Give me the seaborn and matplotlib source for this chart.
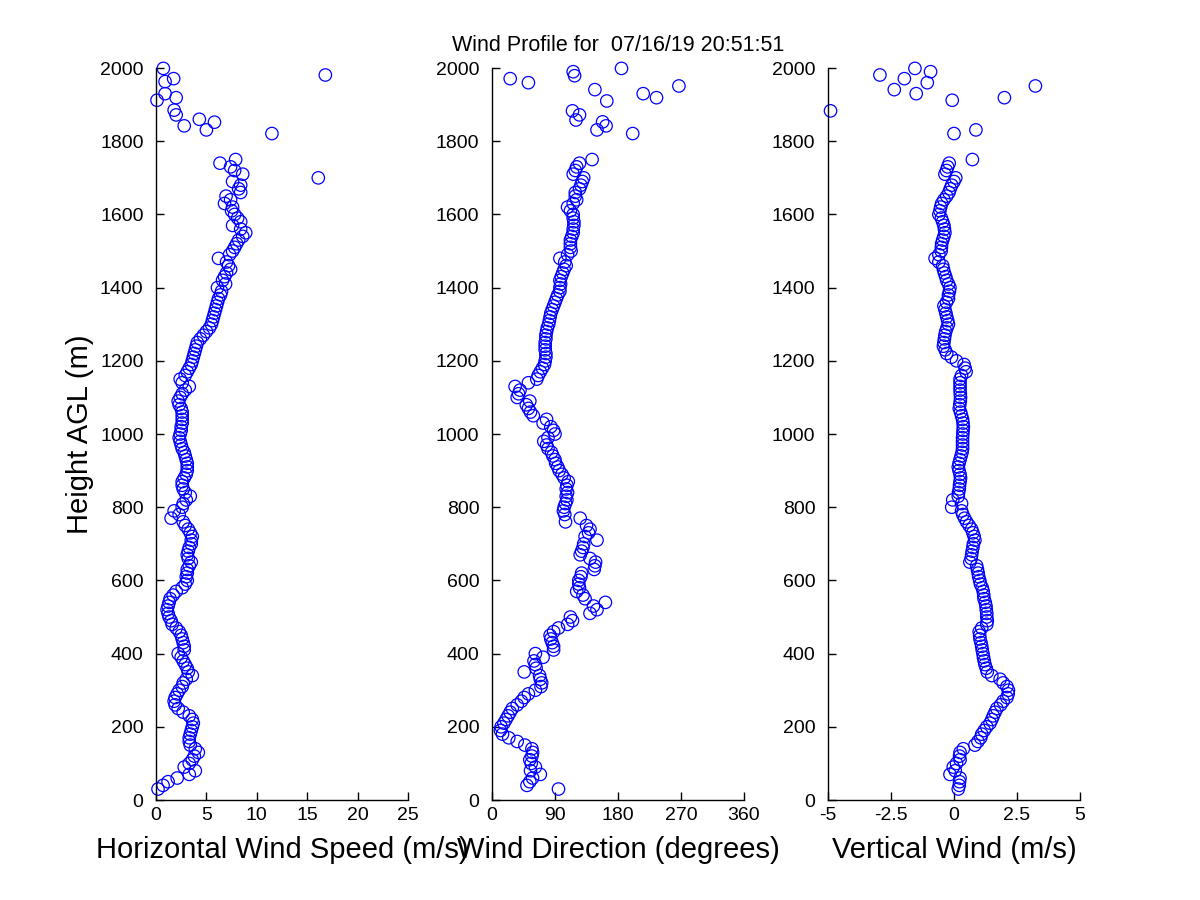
import numpy as np
import pandas as pd
import matplotlib
matplotlib.use("Agg")
import matplotlib.pyplot as plt
import seaborn as sns

# Range gates of the dense part of the profile (m AGL)
gate_heights = np.arange(30, 1760, 10)

# Horizontal wind speed (m/s), one row per 100 m
speed = [
    0.2, 0.7, 1.2, 2.1, 3.3, 3.9, 2.8,
    3.3, 3.6, 3.8, 4.2, 3.9, 3.4, 3.3, 3.3, 3.4, 3.5,
    3.6, 3.7, 3.6, 3.3, 2.7, 2.2, 1.9, 1.8, 1.9, 2.1,
    2.3, 2.6, 2.7, 3.0, 3.6, 3.2, 3.1, 2.9, 2.7, 2.5,
    2.2, 2.8, 2.8, 2.7, 2.6, 2.5, 2.3, 2.0, 1.6, 1.5,
    1.3, 1.2, 1.1, 1.2, 1.3, 1.4, 1.7, 2.0, 2.6, 2.9,
    3.1, 3.0, 3.1, 3.1, 3.3, 3.5, 3.2, 3.1, 3.2, 3.3,
    3.5, 3.5, 3.6, 3.4, 3.2, 2.9, 2.7, 1.5, 2.3, 1.8,
    2.6, 2.7, 3.0, 3.4, 2.9, 2.7, 2.6, 2.6, 2.8, 3.0,
    3.1, 3.1, 3.1, 3.0, 2.9, 2.8, 2.6, 2.5, 2.4, 2.3,
    2.4, 2.5, 2.5, 2.6, 2.6, 2.6, 2.6, 2.5, 2.3, 2.2,
    2.4, 2.6, 2.9, 3.3, 2.6, 2.4, 2.9, 3.1, 3.3, 3.5,
    3.6, 3.7, 3.8, 3.9, 4.0, 4.1, 4.4, 4.7, 5.0, 5.3,
    5.5, 5.6, 5.7, 5.8, 5.9, 6.0, 6.1, 6.2, 6.4, 6.5,
    6.1, 6.9, 6.6, 6.8, 7.0, 7.4, 7.2, 7.0, 6.2, 7.3,
    7.6, 7.8, 8.0, 8.2, 8.6, 8.9, 8.4, 7.6, 8.4, 8.1,
    7.8, 7.5, 7.6, 6.8, 7.4, 6.95, 8.4, 8.2, 8.4, 7.6,
    16.1, 8.6, 7.8, 7.4, 6.35, 7.9,
]

# Wind direction (degrees)
direction = [
    95, 50, 54, 58, 69, 55, 62,
    56, 54, 57, 58, 57, 47, 36, 24, 15, 12,
    13, 17, 20, 23, 26, 29, 36, 42, 46, 52,
    62, 70, 71, 69, 68, 46, 63, 62, 60, 73,
    62, 88, 88, 86, 84, 83, 88, 95, 108, 115,
    112, 140, 150, 145, 162, 133, 130, 121, 125, 124,
    124, 127, 128, 146, 147, 148, 140, 126, 128, 130,
    131, 150, 133, 138, 140, 135, 105, 126, 104, 102,
    103, 105, 107, 106, 108, 106, 107, 109, 103, 100,
    96, 94, 91, 90, 87, 85, 80, 78, 74, 80,
    90, 88, 84, 73, 78, 59, 55, 52, 49, 54,
    36, 38, 40, 33, 52, 64, 66, 69, 72, 75,
    76, 77, 77, 76, 76, 76, 77, 77, 78, 79,
    81, 82, 83, 84, 86, 88, 90, 92, 94, 97,
    97, 98, 97, 99, 101, 103, 106, 104, 97, 108,
    113, 112, 112, 112, 114, 116, 116, 117, 117, 116,
    116, 112, 108, 116, 121, 119, 119, 125, 127, 129,
    131, 116, 119, 121, 125, 143,
]

# Vertical wind (m/s)
vertical = [
    0.17, 0.21, 0.22, 0.24, -0.16, 0.05, -0.03,
    0.1, 0.24, 0.22, 0.24, 0.37, 0.83, 0.95, 1.06, 1.1, 1.2,
    1.3, 1.43, 1.5, 1.56, 1.63, 1.7, 1.85, 1.95, 2.1, 2.15,
    2.16, 2.1, 1.95, 1.83, 1.5, 1.32, 1.28, 1.23, 1.2, 1.17,
    1.15, 1.12, 1.1, 1.07, 1.03, 1.02, 1.0, 1.1, 1.3, 1.32,
    1.3, 1.3, 1.28, 1.27, 1.24, 1.19, 1.18, 1.16, 1.12, 1.05,
    1.02, 0.98, 0.96, 0.93, 0.9, 0.63, 0.68, 0.7, 0.72, 0.75,
    0.77, 0.83, 0.8, 0.75, 0.7, 0.6, 0.5, 0.42, 0.35, 0.3,
    -0.09, 0.3, -0.05, 0.17, 0.18, 0.21, 0.22, 0.24, 0.26, 0.24,
    0.2, 0.17, 0.2, 0.24, 0.28, 0.32, 0.34, 0.34, 0.34, 0.34,
    0.35, 0.36, 0.37, 0.36, 0.34, 0.3, 0.26, 0.21, 0.23, 0.25,
    0.26, 0.25, 0.24, 0.24, 0.24, 0.24, 0.3, 0.48, 0.44, 0.4,
    0.1, -0.1, -0.29, -0.35, -0.42, -0.4, -0.38, -0.36, -0.33, -0.28,
    -0.22, -0.25, -0.29, -0.32, -0.36, -0.4, -0.3, -0.22, -0.22, -0.18,
    -0.16, -0.22, -0.29, -0.33, -0.38, -0.42, -0.45, -0.6, -0.75, -0.6,
    -0.51, -0.5, -0.49, -0.45, -0.4, -0.36, -0.38, -0.4, -0.45, -0.5,
    -0.6, -0.56, -0.53, -0.49, -0.4, -0.29, -0.2, -0.15, -0.09, 0.0,
    0.07, -0.36, -0.3, -0.25, -0.19, 0.73,
]

# Sparse, noisy returns near the top of the profile
top_h_speed = [1821, 1831, 1842, 1852, 1860, 1872, 1885, 1912, 1919, 1930, 1963, 1971, 1981, 1999]
top_speed = [11.5, 5.0, 2.8, 5.8, 4.3, 2.0, 1.8, 0.1, 2.0, 0.9, 0.9, 1.75, 16.8, 0.73]

top_h_dir = [1821, 1831, 1842, 1853, 1858, 1872, 1883, 1910, 1919, 1930, 1941, 1951,
             1960, 1971, 1979, 1990, 1999]
top_dir = [201, 150, 163, 158, 120, 125, 115, 164, 235, 216, 147, 267,
           52, 26, 118, 116, 185]

top_h_vert = [1821, 1831, 1883, 1912, 1919, 1930, 1941, 1951, 1960, 1971, 1981, 1990, 1999]
top_vert = [0.0, 0.87, -4.9, -0.07, 2.0, -1.5, -2.37, 3.23, -1.06, -1.97, -2.94, -0.93, -1.55]

title = "Wind Profile for  07/16/19 20:51:51"

sns.set_style("ticks")
plt.rcParams["font.family"] = ["Liberation Sans", "DejaVu Sans"]
plt.rcParams["text.color"] = "black"
plt.rcParams["axes.labelcolor"] = "black"

fig = plt.figure(figsize=(12, 9), dpi=100)
left_edges = [0.13, 0.41, 0.69]
axes = [fig.add_axes([l, 0.1111, 0.21, 0.8133]) for l in left_edges]


def profile_frame(h_dense, v_dense, h_top, v_top):
    df = pd.DataFrame({"height": np.concatenate([h_dense, h_top]),
                       "value": np.concatenate([v_dense, v_top])})
    return df


panels = [
    (profile_frame(gate_heights, speed, top_h_speed, top_speed),
     "Horizontal Wind Speed (m/s)", (0, 25), [0, 5, 10, 15, 20, 25],
     ["0", "5", "10", "15", "20", "25"]),
    (profile_frame(gate_heights, direction, top_h_dir, top_dir),
     "Wind Direction (degrees)", (0, 360), [0, 90, 180, 270, 360],
     ["0", "90", "180", "270", "360"]),
    (profile_frame(gate_heights, vertical, top_h_vert, top_vert),
     "Vertical Wind (m/s)", (-5, 5), [-5, -2.5, 0, 2.5, 5],
     ["-5", "-2.5", "0", "2.5", "5"]),
]

for ax, (df, xlabel, xlim, xticks, xticklabels) in zip(axes, panels):
    sns.scatterplot(data=df, x="value", y="height", ax=ax, marker="o", s=80,
                    facecolor="none", edgecolor="#0000ff", linewidth=0.9,
                    clip_on=False, legend=False)
    ax.set_xlim(*xlim)
    ax.set_ylim(0, 2000)
    ax.set_xticks(xticks)
    ax.set_xticklabels(xticklabels)
    ax.set_yticks(range(0, 2001, 200))
    ax.set_xlabel(xlabel, fontsize=21, labelpad=9, color="black")
    ax.set_ylabel("")
    ax.tick_params(direction="in", length=6, width=1, labelsize=14,
                   colors="black")
    ax.tick_params(axis="y", pad=9)
    ax.tick_params(axis="x", pad=5)
    for side in ["top", "right"]:
        ax.spines[side].set_visible(False)
    for side in ["left", "bottom"]:
        ax.spines[side].set_color("black")
        ax.spines[side].set_linewidth(1)

axes[0].set_ylabel("Height AGL (m)", fontsize=21, labelpad=4, color="black")
axes[1].set_title(title, fontsize=15.5, pad=12, color="black")

fig.savefig("out.png", dpi=100)
